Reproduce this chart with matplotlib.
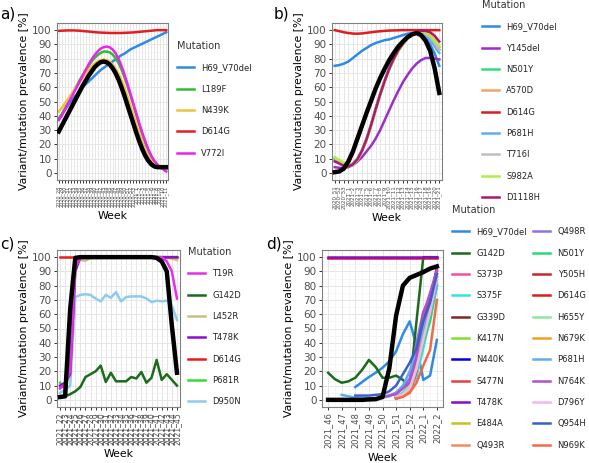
import numpy as np
import matplotlib
matplotlib.use('Agg')
import matplotlib.pyplot as plt

nan = np.nan

# ---------------- panel a ----------------
a_weeks = ['2020_%d' % w for w in range(28, 54)] + ['2021_%d' % w for w in range(1, 12)]
a_mut = ['H69_V70del', 'L189F', 'N439K', 'D614G', 'V772I']
a_colors = ['#2E8AE6', '#2DBE2D', '#F0C040', '#E02020', '#EE22EE']
a_H69_V70del = [38, 41, 44, 47, 50, 52.5, 55, 57.5, 60, 62, 64, 66, 68, 70, 72, 73.5, 75, 76.5, 78,
                79.5, 81, 82.5, 83.5, 85, 86.5, 87.5, 88.5, 89.5, 90.5, 91.5, 92.5, 93.5, 94.5, 95.5,
                96.5, 97.5, 98.5]
a_L189F = [38, 41, 45, 49, 53, 57, 61, 65, 68.5, 72, 75, 78, 80.5, 82.5, 84, 85, 85, 84.5, 83, 80.5,
           77, 72.5, 67, 61, 54.5, 47.5, 40.5, 33.5, 27, 21, 16, 11.5, 8, 5.5, 4, 3, 2.5]
a_N439K = [43, 45.5, 48.5, 51.5, 54.5, 57.5, 60.5, 63.5, 66.5, 69.5, 72, 74.5, 76.5, 78, 79, 79.5, 79,
           78, 76, 73, 69.5, 65, 59.5, 53.5, 47, 40.5, 34, 27.5, 21.5, 16, 11.5, 8, 5.5, 4, 3.5, 3, 3]
a_D614G = [99.5, 99.6, 99.7, 99.8, 99.8, 99.8, 99.7, 99.6, 99.4, 99.2, 99.0, 98.8, 98.6, 98.4, 98.3,
           98.2, 98.1, 98.0, 98.0, 98.0, 98.0, 98.0, 98.1, 98.2, 98.3, 98.4, 98.6, 98.8, 99.0, 99.2,
           99.4, 99.6, 99.8, 100, 100, 100, 100]
a_V772I = [37, 40, 44, 48, 52, 56, 60, 64, 68, 72, 76, 79.5, 82.5, 85, 87, 88, 88.5, 88, 86.5, 84, 80,
           75, 69, 62.5, 55.5, 48.5, 41.5, 34.5, 28, 22, 16.5, 12, 8.5, 6, 4, 2.5, 1]
a_variant = [29, 33, 37, 41, 45, 49, 53, 57, 61, 64.5, 68, 71, 74, 76, 77.5, 78, 77.5, 76, 73.5, 70,
             65.5, 60, 54, 47.5, 41, 34.5, 28, 22, 16.5, 12, 8.5, 6, 4.5, 4, 4, 4, 4]

# ---------------- panel b ----------------
b_weeks = ['2020_%d' % w for w in range(51, 54)] + ['2021_%d' % w for w in range(1, 22)]
b_mut = ['H69_V70del', 'Y145del', 'N501Y', 'A570D', 'D614G', 'P681H', 'T716I', 'S982A', 'D1118H']
b_colors = ['#2E8AE6', '#9B30C8', '#2EE07A', '#F4A460', '#DD1C1C', '#5EAEEE', '#BEBEBE', '#B3EE3A', '#B0166E']
b_H69_V70del = [75, 75.5, 76.5, 78, 80.5, 83, 85.5, 87.5, 89.5, 91, 92, 93, 93.5, 94.5, 95.5, 96.5,
                97.5, 98, 98, 97, 94.5, 90, 83.5, 75]
b_Y145del = [4, 3.5, 3.5, 4, 5.5, 8, 11, 15, 19, 24, 30, 37, 44, 51, 57.5, 63.5, 68.5, 73, 76.5, 79,
             80.5, 80.5, 80, 79.5]
b_N501Y = [9, 7.5, 5.5, 4.5, 6, 9.5, 15.5, 23.5, 33.5, 44.5, 55, 64.5, 73, 80, 86, 90.5, 94.5, 97,
           98.5, 99, 98, 95.5, 91.5, 86.5]
b_A570D = [10, 8, 6, 5, 6.5, 10, 16, 24, 34, 45, 55.5, 65, 73.5, 80.5, 86.5, 91, 95, 97.5, 98.5, 99,
           98.5, 96.5, 93, 88]
b_D614G = [100, 99.3, 98.5, 98, 97.6, 97.5, 97.7, 98.1, 98.5, 98.9, 99.2, 99.5, 99.7, 99.8, 99.9,
           100, 100, 100, 100, 100, 100, 100, 100, 100]
b_P681H = [10, 8, 6, 5, 6.5, 10, 16, 24, 34, 45, 55.5, 65, 73.5, 80.5, 86.5, 91, 95, 97, 98, 98,
           96.5, 93, 88.5, 84]
b_T716I = [10.5, 8.5, 6.5, 5, 6, 9, 15, 23, 33, 44, 54.5, 64, 72.5, 79.5, 85.5, 90, 94, 96.5, 98,
           98.5, 97.5, 95, 91, 86]
b_S982A = [11, 9, 7, 5.5, 6, 9, 15, 23, 33, 44, 54.5, 64, 72.5, 79.5, 85.5, 90, 94, 96.5, 98, 99,
           98.5, 96.5, 93, 89]
b_D1118H = [8, 6.5, 5, 4.5, 6, 9.5, 15.5, 23.5, 33.5, 44.5, 55, 64.5, 73, 80, 86, 90.5, 94.5, 97,
            98.5, 99.5, 99.5, 98.5, 96, 92]
b_variant = [0.5, 1, 3, 8, 15, 24, 33, 42, 50.5, 59, 66.5, 73, 79, 84, 88.5, 92, 95, 97, 98, 96.5,
             92.5, 85.5, 73, 56]

# ---------------- panel c ----------------
c_weeks = ['2021_%d' % w for w in range(22, 46)]
c_mut = ['T19R', 'G142D', 'L452R', 'T478K', 'D614G', 'P681R', 'D950N']
c_colors = ['#E62EE6', '#1B6B1B', '#C8C080', '#8A0FD0', '#F01818', '#36D936', '#8CCBF2']
c_T19R = [8, 11, 20, 93, 100, 100, 100, 100, 100, 100, 100, 100, 100, 100, 100, 100, 100, 100, 100,
          100, 100, 97, 90, 71]
c_G142D = [2, 2.5, 4, 6, 9, 16, 18, 20, 24, 12.5, 19, 13, 13, 13, 16, 15, 19.5, 12, 15.5, 28, 14, 18,
           14, 10]
c_L452R = [9, 9, 22, 99, 98, 97.5, 99.5, 100, 100, 100, 100, 100, 100, 100, 100, 100, 100, 100, 100,
           100, 100, 99.5, 99, 98]
c_T478K = [10, 12, 18, 90, 100, 100, 100, 100, 100, 100, 100, 100, 100, 100, 100, 100, 100, 100, 100,
           100, 100, 100, 100, 100]
c_D614G = [100] * 24
c_P681R = [12, 8, 25, 99, 100, 100, 100, 99.5, 99.5, 100, 100, 100, 100, 100, 100, 100, 100, 100,
           100, 100, 100, 100, 100, 100]
c_D950N = [5, 7, 10, 72, 73.5, 74, 73.5, 71, 69, 73.5, 71.5, 75.5, 69, 72, 72.5, 72.5, 72.5, 71,
           68.5, 69.5, 69, 69.5, 66, 56]
c_variant = [2, 2.5, 64, 99.5, 100, 100, 100, 100, 100, 100, 100, 100, 100, 100, 100, 100, 100, 100,
             100, 99.5, 97, 90, 52, 19]

# ---------------- panel d ----------------
d_weeks = ['2021_46', '2021_47', '2021_48', '2021_49', '2021_50', '2021_51', '2021_52', '2022_1', '2022_2']
d_t = [0, 0.5, 1, 1.5, 2, 2.5, 3, 3.5, 4, 4.5, 5, 5.5, 6, 6.5, 7, 7.5, 8]
d_mut = ['H69_V70del', 'G142D', 'S373P', 'S375F', 'G339D', 'K417N', 'N440K', 'S477N', 'T478K',
         'E484A', 'Q493R', 'Q498R', 'N501Y', 'Y505H', 'D614G', 'H655Y', 'N679K', 'P681H', 'N764K',
         'D796Y', 'Q954H', 'N969K']
d_colors = ['#2E8AE6', '#1B6B1B', '#F0529C', '#2EE6E6', '#8B2323', '#7FE030', '#0000E0', '#E8403C',
            '#8B0AC8', '#C9C21E', '#F28C5A', '#9070E8', '#22DD77', '#C0282D', '#E01B1B', '#8FE89A',
            '#F2A024', '#5EAEEE', '#B050D0', '#F2B8EC', '#3C5FC4', '#F06A48']
d_vals = {
    'H69_V70del': [nan, nan, nan, nan, 9, 12.5, 16, 19, 22.5, 27, 34, 46, 55, 38, 14, 17, 42],
    'G142D': [19, 14.5, 12, 13, 15.5, 21, 28, 23, 15.5, 15.5, 17, 14, 9, 55, 100, 100, 100],
    'S373P': [nan] * 10 + [2, 4, 7, 20, 45, 68, 88],
    'S375F': [nan] * 10 + [2, 4, 7, 16, 36, 58, 80],
    'G339D': [nan] * 10 + [1, 3, 6, 25, 55, 72, 90],
    'K417N': [nan] * 10 + [1, 3, 8, 22, 42, 60, 82],
    'N440K': [nan] * 10 + [2, 4, 8, 24, 50, 68, 86],
    'S477N': [nan] * 10 + [1, 3, 5, 20, 50, 70, 92],
    'T478K': [99.8] * 17,
    'E484A': [nan] * 10 + [1, 3, 7, 22, 45, 64, 85],
    'Q493R': [nan] * 10 + [1, 3, 6, 22, 48, 68, 88],
    'Q498R': [nan] * 8 + [2, 3, 5, 9, 15, 40, 62, 72, 90],
    'N501Y': [nan] * 10 + [2, 5, 10, 22, 40, 55, 80],
    'Y505H': [nan] * 10 + [1, 3, 6, 30, 60, 68, 93],
    'D614G': [99.6] * 17,
    'H655Y': [nan] * 10 + [2, 4, 10, 24, 45, 62, 82],
    'N679K': [nan] * 10 + [1, 3, 6, 22, 45, 62, 84],
    'P681H': [nan, nan, 3.5, 2.5, 1.5, 1, 1, 1, 1.5, 2.5, 5, 10, 20, 33, 50, 62, 80],
    'N764K': [nan] * 8 + [2, 3, 4, 8, 12, 30, 60, 75, 91],
    'D796Y': [nan] * 10 + [2, 4, 8, 22, 42, 62, 86],
    'Q954H': [nan] * 4 + [3, 3, 3, 3.5, 4, 6, 10, 18, 26, 36, 55, 68, 88],
    'N969K': [nan] * 10 + [1, 2, 5, 12, 24, 35, 70],
}
d_variant = [0, 0, 0, 0, 0, 0, 0.3, 0.5, 2, 22, 59, 80, 85.5, 87.5, 89.5, 92, 93.5]

W, H = 589, 463
fig = plt.figure(figsize=(W / 100, H / 100), dpi=100)


def box(l, r, t, b):
    return [l / W, 1 - b / H, (r - l) / W, (b - t) / H]


def style(ax, weeks, xfs, pad=0.6):
    ax.set_xlim(-pad, len(weeks) - 1 + pad)
    ax.set_ylim(-5, 105)
    ax.set_yticks(range(0, 101, 10))
    ax.set_yticks(range(5, 100, 10), minor=True)
    ax.set_xticks(range(len(weeks)))
    ax.set_xticklabels(weeks, rotation=90, fontsize=xfs)
    ax.grid(which='major', color='#E6E6E6', lw=0.7)
    ax.grid(which='minor', axis='y', color='#F0F0F0', lw=0.4)
    ax.set_axisbelow(True)
    for sp in ax.spines.values():
        sp.set_color('#808080')
        sp.set_linewidth(0.8)
    ax.tick_params(which='major', length=2.5, width=0.7, color='#333333', labelcolor='#4D4D4D', pad=1.5)
    ax.tick_params(axis='y', labelsize=7.5)
    ax.tick_params(which='minor', length=0)
    ax.set_xlabel('Week', fontsize=7.8, labelpad=3)
    ax.set_ylabel('Variant/mutation prevalence [%]', fontsize=7.8, labelpad=2)


def legend(ax, handles, x, y, ncol=1):
    lg = ax.legend(handles=handles, loc='upper left', bbox_to_anchor=(x / W, 1 - y / H),
                   bbox_transform=fig.transFigure, frameon=False, fontsize=6, title='Mutation',
                   title_fontsize=7, handlelength=2.0, handletextpad=0.9, labelspacing=1.48,
                   borderpad=0, borderaxespad=0, ncol=ncol, columnspacing=0.8, alignment='left')
    lg.get_title().set_color('#333333')
    for t in lg.get_texts():
        t.set_color('#222222')


# a)
ax = fig.add_axes(box(57, 168, 23, 180))
xa = np.arange(len(a_weeks))
series_a = [a_H69_V70del, a_L189F, a_N439K, a_D614G, a_V772I]
hs = []
for name, col, vals in zip(a_mut, a_colors, series_a):
    hs.append(ax.plot(xa, vals, color=col, lw=1.8, label=name)[0])
ax.plot(xa, a_variant, color='black', lw=3.2, zorder=5)
style(ax, a_weeks, 3.5)
legend(ax, hs, 177, 41)

# b)
ax = fig.add_axes(box(332, 442, 23, 180))
xb = np.arange(len(b_weeks))
series_b = [b_H69_V70del, b_Y145del, b_N501Y, b_A570D, b_D614G, b_P681H, b_T716I, b_S982A, b_D1118H]
hs = []
for name, col, vals in zip(b_mut, b_colors, series_b):
    hs.append(ax.plot(xb, vals, color=col, lw=1.8, label=name)[0])
ax.plot(xb, b_variant, color='black', lw=3.2, zorder=5)
style(ax, b_weeks, 4)
legend(ax, hs, 482, 0)

# c)
ax = fig.add_axes(box(57, 180, 250, 407))
xc = np.arange(len(c_weeks))
series_c = [c_T19R, c_G142D, c_L452R, c_T478K, c_D614G, c_P681R, c_D950N]
zs = [2.6, 2.1, 2.2, 2.5, 2.3, 2.4, 2.05]
hs = []
for name, col, vals, z in zip(c_mut, c_colors, series_c, zs):
    hs.append(ax.plot(xc, vals, color=col, lw=1.8, label=name, zorder=z)[0])
ax.plot(xc, c_variant, color='black', lw=3.2, zorder=5)
style(ax, c_weeks, 5.5)
legend(ax, hs, 188, 247)

# d)
ax = fig.add_axes(box(322, 443, 250, 407))
hs = []
for name, col in zip(d_mut, d_colors):
    z = 2.5 if name == 'T478K' else 2
    hs.append(ax.plot(d_t, d_vals[name], color=col, lw=1.8, label=name, zorder=z)[0])
ax.plot(d_t, d_variant, color='black', lw=3.2, zorder=5)
style(ax, d_weeks, 6, pad=0.45)
ax.set_xticks(np.arange(0.5, 8, 1), minor=True)
ax.grid(which='minor', axis='x', color='#F0F0F0', lw=0.4)
legend(ax, hs, 452, 205, ncol=2)

fig.text(0, 1 - 14 / H, 'a)', fontsize=11, va='center')
fig.text(274 / W, 1 - 14 / H, 'b)', fontsize=11, va='center')
fig.text(0, 1 - 244 / H, 'c)', fontsize=11, va='center')
fig.text(266 / W, 1 - 244 / H, 'd)', fontsize=11, va='center')

fig.savefig('out.png', dpi=100)
